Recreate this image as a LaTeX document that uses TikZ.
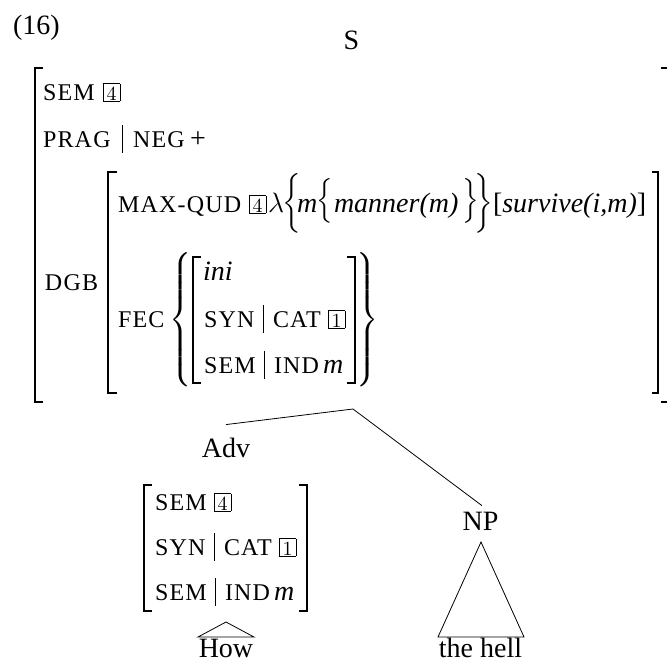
\RequirePackage{fix-cm}
\documentclass[tikz,border=0pt]{standalone}
\usepackage{exscale}
\usepackage{graphicx}
\usepackage[no-math]{fontspec}
\setmainfont{Liberation Serif}
\newfontfamily\featfam[LetterSpace=5]{Liberation Serif}
\newcommand\feat{\featfam\fontsize{24}{27}\selectfont}
\newcommand\mainsz{\fontsize{28}{32}\selectfont}
\newcommand\cmdig{\fontencoding{OT1}\fontfamily{cmr}\fontseries{m}\fontshape{n}\fontsize{10}{10}\selectfont}
\newcommand\tagbox[1]{{\setlength\fboxsep{0pt}\setlength\fboxrule{0.7pt}\fbox{\makebox[16pt]{\rule[-0.5pt]{0pt}{16.5pt}\scalebox{2}{\cmdig #1}}}}}
\newcommand\lbrc[1]{$\left\{\vcenter{\vskip #1}\right.$}
\newcommand\rbrc[1]{$\left.\vcenter{\vskip #1}\right\}$}
\begin{document}
\begin{tikzpicture}[x=1pt,y=-1pt,
  txt/.style={inner sep=0pt, outer sep=0pt, font=\mainsz, anchor=base west},
  ft/.style={inner sep=0pt, outer sep=0pt, font=\feat, anchor=base west},
  brc/.style={inner sep=0pt, outer sep=0pt, font=\mainsz},
  brk/.style={line width=1.3pt},
  fbar/.style={line width=0.7pt},
  tree/.style={line width=0.8pt}]
\useasboundingbox (0,0) rectangle (667,662);
% label and root
\node[txt] (ex) at (13,34) {(16)};
\node[txt,anchor=base] (S) at (351.5,49) {S};
% outer brackets
\draw[brk] (43,68) -- (35,68) -- (35,402) -- (43,402);
\draw[brk] (661,68) -- (669,68) -- (669,402) -- (661,402);
% SEM row
\node[ft] (sem) at (43,100) {SEM};
\node[txt] (b4a) at (103,100) {\tagbox{4}};
% PRAG row
\node[ft] (prag) at (43,147) {PRAG};
\draw[fbar] (122,125) -- (122,153);
\node[ft] (neg) at (133,147) {NEG};
\node[txt] (plus) at (190,147) {+};
% DGB
\node[ft] (dgb) at (45,290) {DGB};
\draw[brk] (117,172) -- (108,172) -- (108,393) -- (117,393);
\draw[brk] (652,172) -- (658,172) -- (658,393) -- (652,393);
% MAX-QUD row
\node[ft] (mq) at (118,212) {MAX-QUD};
\node[txt] (b4b) at (249,212) {\tagbox{4}};
\node[txt] (lam) at (268,212) {$\lambda$};
\node[brc,anchor=west] (bl) at (282,203.5) {\lbrc{60pt}};
\node[txt] (m1) at (297,212) {\textit{m}};
\node[brc,anchor=west] (sl) at (316,201) {\lbrc{48pt}};
\node[txt] (manner) at (334,212) {\textit{manner(m)}};
\node[brc,anchor=east] (sr) at (479,201) {\rbrc{48pt}};
\node[brc,anchor=east] (br) at (493,203.5) {\rbrc{60pt}};
\node[txt] (surv) at (493,212) {[\textit{survive(i,m)}]};
% FEC row
\node[ft] (fec) at (118,327) {FEC};
\node[brc,anchor=west] (fl) at (169,320) {\lbrc{138pt}};
\node[brc,anchor=east] (fr) at (379,320) {\rbrc{138pt}};
\draw[brk] (201,257) -- (193,257) -- (193,383) -- (201,383);
\draw[brk] (347,257) -- (355,257) -- (355,383) -- (347,383);
\node[txt] (ini) at (203,280) {\textit{ini}};
\node[ft] (syn1) at (204,327) {SYN};
\draw[fbar] (263,305) -- (263,333);
\node[ft] (cat1) at (273,327) {CAT};
\node[txt] (b1a) at (328,327) {\tagbox{1}};
\node[ft] (sem2) at (204,373) {SEM};
\draw[fbar] (264,351) -- (264,379);
\node[ft] (ind1) at (274,373) {IND};
\node[txt] (m2) at (323,373) {\textit{m}};
% tree
\coordinate (Sb) at (353,409);
\node[txt,anchor=base] (adv) at (226,457) {Adv};
\node[txt,anchor=base] (np) at (480.5,530) {NP};
\draw[tree] (Sb) -- ([yshift=13pt]adv.north);
\draw[tree] (Sb) -- ([xshift=1.5pt,yshift=6pt]np.north);
% Adv AVM
\draw[brk] (152,485) -- (144,485) -- (144,611) -- (152,611);
\draw[brk] (299,485) -- (307,485) -- (307,611) -- (299,611);
\node[ft] (sem3) at (155,510) {SEM};
\node[txt] (b4c) at (214,510) {\tagbox{4}};
\node[ft] (syn2) at (155,555) {SYN};
\draw[fbar] (214,533) -- (214,561);
\node[ft] (cat2) at (224,555) {CAT};
\node[txt] (b1b) at (279,555) {\tagbox{1}};
\node[ft] (sem4) at (155,600) {SEM};
\draw[fbar] (215,578) -- (215,606);
\node[ft] (ind2) at (225,600) {IND};
\node[txt] (m3) at (274,600) {\textit{m}};
% triangles and words
\coordinate (ht) at (226,622);
\coordinate (hl) at (198,637);
\coordinate (hr) at (254,637);
\draw[tree] (ht) -- (hl) -- (hr) -- cycle;
\node[txt,anchor=base] (how) at (226,657) {How};
\coordinate (nt) at (481,542);
\coordinate (nl) at (438,637);
\coordinate (nr) at (524,637);
\draw[tree] (nt) -- (nl) -- (nr) -- cycle;
\node[txt,anchor=base] (hell) at (480.5,657) {the hell};
\end{tikzpicture}
\end{document}
